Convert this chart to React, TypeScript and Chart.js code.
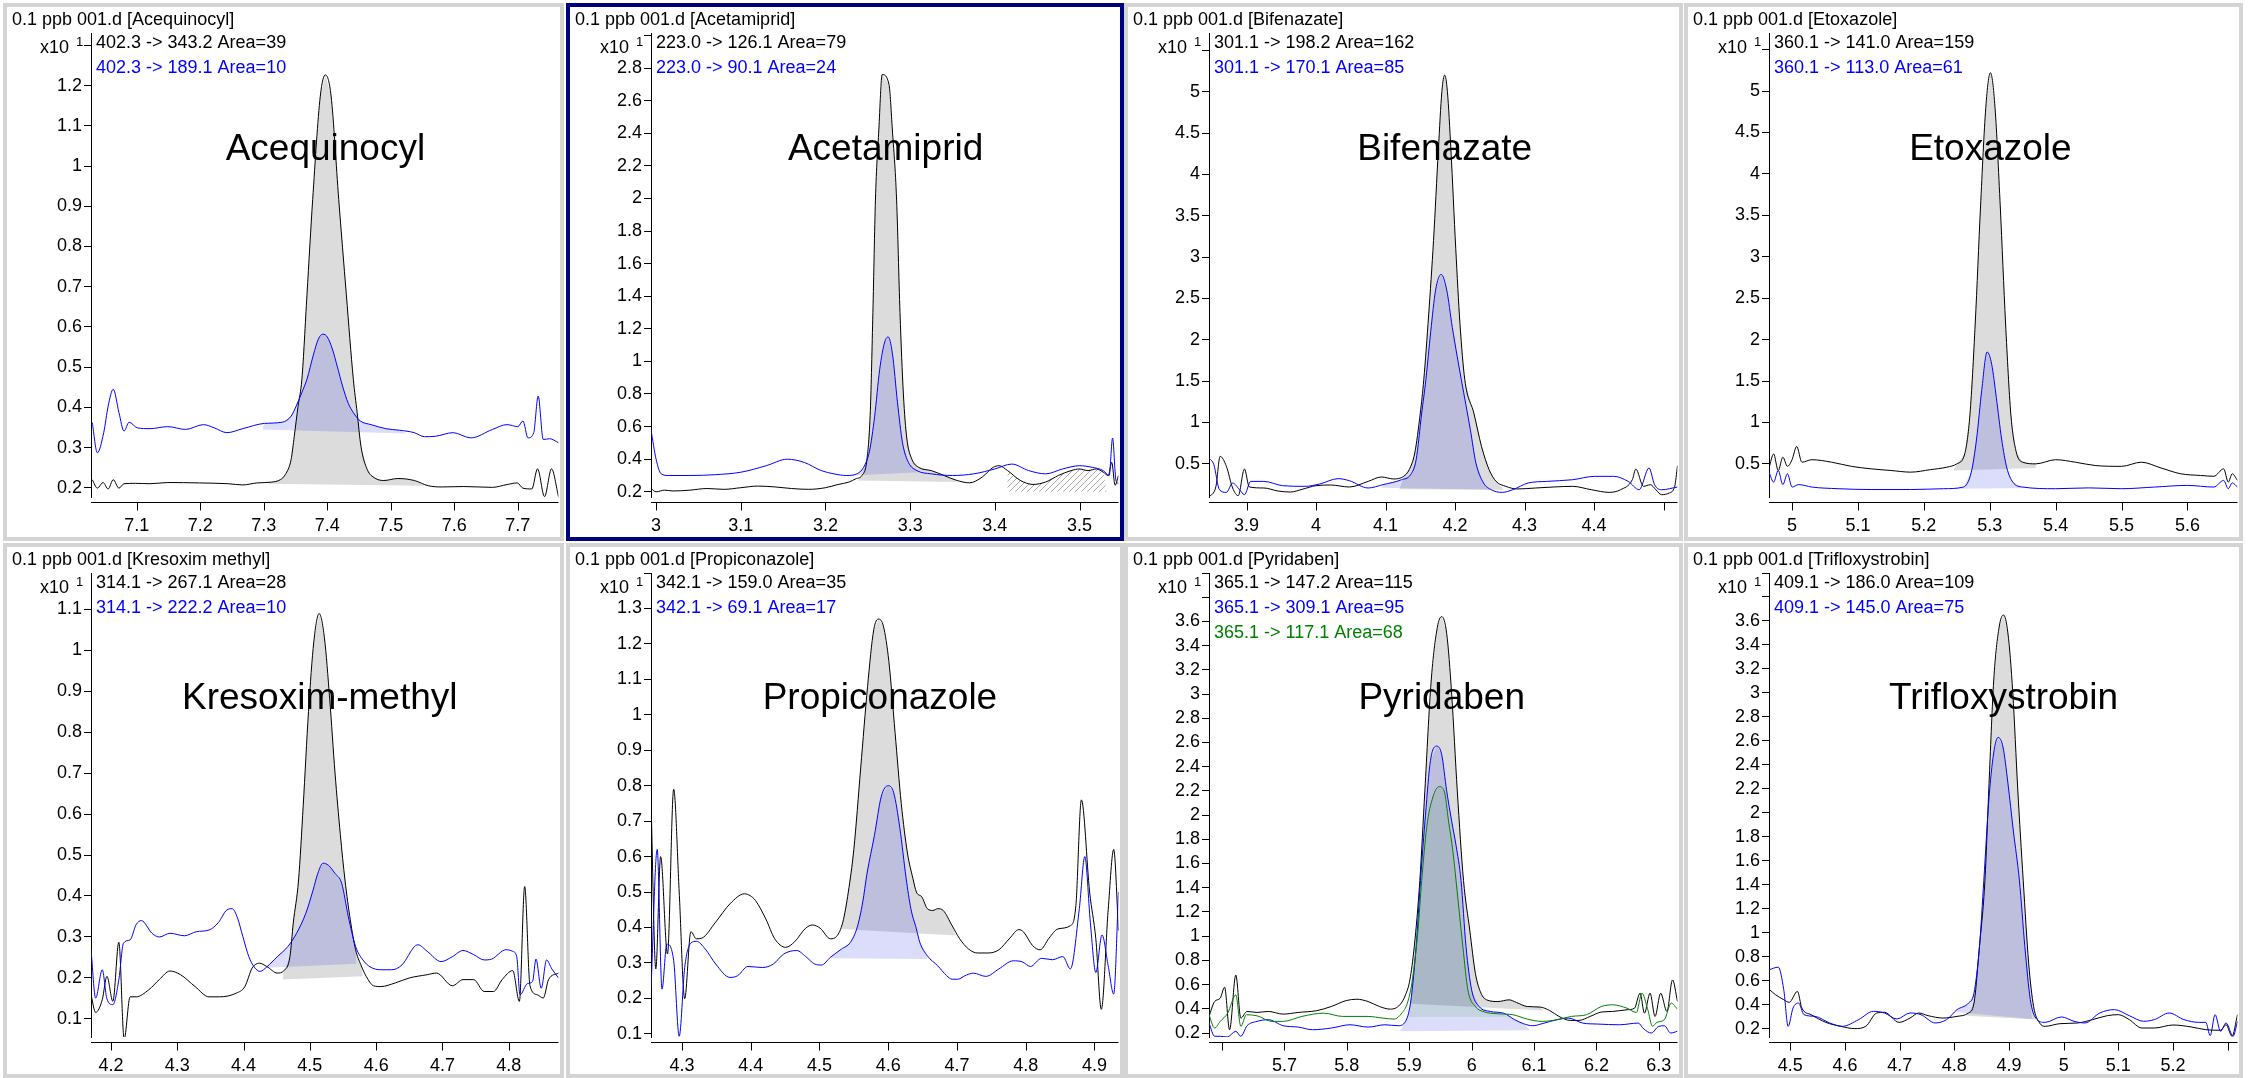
import React, { useEffect, useRef } from "react";
import { Chart, registerables } from "chart.js";

Chart.register(...registerables);

type Pt = [number, number];

const FONT = "'Liberation Sans', Arial, Helvetica, sans-serif";
const BLACK = "#000000";
const BLUE = "#0000ff";
const GREEN = "#008000";
const FILL_GREY = "#dcdcdc";
const FILL_BLUE = "rgba(40,40,230,0.16)";
const FILL_GREEN = "rgba(0,128,0,0.10)";
const PANEL_BORDER = "#d4d4d4";
const SEL_BORDER = "#00007f";

// ---------------- Acequinocyl ----------------
const aceqBlack: Pt[] = [[7.030,0.220],[7.038,0.199],[7.047,0.213],[7.055,0.197],[7.063,0.220],[7.072,0.199],[7.080,0.210],[7.098,0.211],[7.121,0.210],[7.149,0.213],[7.199,0.212],[7.244,0.210],[7.267,0.207],[7.289,0.212],[7.312,0.214],[7.326,0.220],[7.334,0.233],[7.343,0.270],[7.348,0.328],[7.354,0.403],[7.360,0.470],[7.368,0.680],[7.377,0.917],[7.389,1.174],[7.397,1.227],[7.406,1.174],[7.418,0.917],[7.430,0.680],[7.441,0.470],[7.447,0.387],[7.453,0.303],[7.463,0.245],[7.475,0.224],[7.489,0.218],[7.511,0.223],[7.537,0.218],[7.559,0.205],[7.581,0.202],[7.615,0.203],[7.660,0.201],[7.683,0.208],[7.699,0.212],[7.708,0.199],[7.722,0.197],[7.731,0.247],[7.742,0.178],[7.753,0.247],[7.764,0.178]];
const aceqBlue: Pt[] = [[7.030,0.362],[7.038,0.287],[7.048,0.337],[7.055,0.403],[7.063,0.445],[7.072,0.387],[7.080,0.341],[7.088,0.363],[7.101,0.349],[7.121,0.347],[7.149,0.352],[7.177,0.345],[7.205,0.357],[7.222,0.349],[7.242,0.337],[7.267,0.347],[7.301,0.360],[7.329,0.363],[7.343,0.378],[7.351,0.403],[7.360,0.437],[7.368,0.470],[7.378,0.530],[7.386,0.570],[7.393,0.582],[7.400,0.575],[7.408,0.545],[7.416,0.500],[7.424,0.453],[7.433,0.410],[7.441,0.387],[7.452,0.366],[7.469,0.357],[7.492,0.347],[7.514,0.343],[7.537,0.337],[7.553,0.327],[7.570,0.328],[7.598,0.337],[7.626,0.324],[7.660,0.345],[7.683,0.357],[7.700,0.352],[7.708,0.366],[7.716,0.324],[7.725,0.337],[7.732,0.428],[7.740,0.320],[7.750,0.322],[7.764,0.312]];
const aceqBlackBase: Pt[] = [[7.306,0.210],[7.553,0.205]];
const aceqBlueBase: Pt[] = [[7.298,0.345],[7.525,0.335]];
const aceqXTicks = [7.1,7.2,7.3,7.4,7.5,7.6,7.7];
const aceqXLabels = ["7.1","7.2","7.3","7.4","7.5","7.6","7.7"];
const aceqYTicks = [0.2,0.3,0.4,0.5,0.6,0.7,0.8,0.9,1.0,1.1,1.2,1.3];
const aceqYLabels = ["0.2","0.3","0.4","0.5","0.6","0.7","0.8","0.9","1","1.1","1.2",""];

// ---------------- Acetamiprid ----------------
const acetBlack: Pt[] = [[2.994,0.22],[3.0,0.20],[3.01,0.21],[3.02,0.205],[3.04,0.21],[3.06,0.22],[3.08,0.215],[3.10,0.225],[3.12,0.235],[3.14,0.23],[3.16,0.22],[3.18,0.215],[3.20,0.225],[3.215,0.245],[3.228,0.26],[3.236,0.28],[3.243,0.30],[3.249,0.40],[3.253,0.70],[3.256,1.3],[3.259,1.99],[3.263,2.42],[3.267,2.76],[3.275,2.70],[3.279,2.42],[3.284,1.99],[3.288,1.30],[3.292,0.80],[3.296,0.53],[3.302,0.40],[3.31,0.35],[3.325,0.33],[3.34,0.30],[3.355,0.27],[3.37,0.255],[3.385,0.29],[3.398,0.35],[3.405,0.36],[3.415,0.33],[3.43,0.27],[3.445,0.245],[3.46,0.26],[3.475,0.30],[3.49,0.33],[3.50,0.34],[3.51,0.33],[3.52,0.34],[3.528,0.32],[3.534,0.30],[3.538,0.38],[3.542,0.24],[3.546,0.30]];
const acetBlue: Pt[] = [[2.994,0.58],[3.0,0.40],[3.006,0.31],[3.015,0.30],[3.04,0.30],[3.07,0.305],[3.10,0.32],[3.13,0.36],[3.155,0.40],[3.175,0.38],[3.195,0.33],[3.21,0.31],[3.225,0.30],[3.237,0.31],[3.245,0.35],[3.252,0.45],[3.258,0.66],[3.264,0.95],[3.27,1.12],[3.274,1.15],[3.279,1.05],[3.285,0.75],[3.291,0.50],[3.298,0.38],[3.308,0.33],[3.325,0.31],[3.35,0.30],[3.375,0.31],[3.40,0.34],[3.42,0.37],[3.44,0.33],[3.46,0.31],[3.48,0.34],[3.50,0.36],[3.515,0.35],[3.528,0.33],[3.535,0.30],[3.539,0.53],[3.543,0.27],[3.546,0.25]];
const acetBlackBase: Pt[] = [[3.238,0.27],[3.355,0.26]];
const acetBlueBase: Pt[] = [[3.232,0.30],[3.31,0.32]];
const acetHatchBase: Pt[] = [[3.415,0.20],[3.532,0.20]];
const acetXTicks = [3.0,3.1,3.2,3.3,3.4,3.5];
const acetXLabels = ["3","3.1","3.2","3.3","3.4","3.5"];
const acetYTicks = [0.2,0.4,0.6,0.8,1.0,1.2,1.4,1.6,1.8,2.0,2.2,2.4,2.6,2.8,3.0];
const acetYLabels = ["0.2","0.4","0.6","0.8","1","1.2","1.4","1.6","1.8","2","2.2","2.4","2.6","2.8",""];

// ---------------- Bifenazate ----------------
const bifeBlack: Pt[] = [[3.846,0.097],[3.856,0.226],[3.862,0.589],[3.871,0.468],[3.880,0.206],[3.888,0.113],[3.897,0.435],[3.904,0.218],[3.925,0.206],[3.945,0.17],[3.963,0.157],[3.98,0.19],[4.0,0.234],[4.021,0.242],[4.048,0.218],[4.075,0.286],[4.094,0.339],[4.112,0.315],[4.126,0.347],[4.134,0.427],[4.142,0.629],[4.150,1.113],[4.155,1.516],[4.162,2.3],[4.169,3.2],[4.176,4.3],[4.181,5.0],[4.185,5.20],[4.189,5.0],[4.194,4.3],[4.201,3.1],[4.207,2.2],[4.214,1.516],[4.227,1.113],[4.238,0.71],[4.249,0.427],[4.259,0.286],[4.273,0.226],[4.289,0.194],[4.316,0.206],[4.342,0.218],[4.369,0.226],[4.396,0.185],[4.422,0.153],[4.438,0.185],[4.455,0.306],[4.460,0.435],[4.471,0.226],[4.481,0.246],[4.489,0.185],[4.497,0.125],[4.508,0.145],[4.516,0.226],[4.520,0.476]];
const bifeBlue: Pt[] = [[3.846,0.569],[3.853,0.488],[3.861,0.185],[3.871,0.153],[3.880,0.266],[3.890,0.185],[3.897,0.125],[3.906,0.286],[3.925,0.286],[3.952,0.234],[3.984,0.226],[4.005,0.254],[4.032,0.319],[4.048,0.294],[4.075,0.206],[4.096,0.246],[4.123,0.306],[4.136,0.367],[4.144,0.548],[4.152,1.113],[4.158,1.516],[4.165,2.1],[4.172,2.6],[4.18,2.79],[4.188,2.6],[4.196,2.15],[4.203,1.8],[4.209,1.516],[4.222,0.911],[4.230,0.508],[4.241,0.266],[4.252,0.185],[4.268,0.153],[4.283,0.185],[4.305,0.266],[4.332,0.286],[4.369,0.306],[4.401,0.347],[4.428,0.347],[4.449,0.286],[4.465,0.185],[4.479,0.448],[4.487,0.246],[4.497,0.185],[4.520,0.218]];
const bifeBlackBase: Pt[] = [[4.12,0.19],[4.27,0.185]];
const bifeBlueBase: Pt[] = [[4.094,0.21],[4.255,0.185]];
const bifeXTicks = [3.9,4.0,4.1,4.2,4.3,4.4,4.5];
const bifeXLabels = ["3.9","4","4.1","4.2","4.3","4.4",""];
const bifeYTicks = [0.5,1.0,1.5,2.0,2.5,3.0,3.5,4.0,4.5,5.0,5.5];
const bifeYLabels = ["0.5","1","1.5","2","2.5","3","3.5","4","4.5","5",""];

// ---------------- Etoxazole ----------------
const etoxBlack: Pt[] = [[4.965,0.45],[4.972,0.62],[4.979,0.42],[4.986,0.58],[4.993,0.47],[5.000,0.55],[5.007,0.71],[5.015,0.52],[5.03,0.55],[5.06,0.52],[5.09,0.47],[5.12,0.44],[5.15,0.42],[5.18,0.40],[5.21,0.43],[5.235,0.46],[5.25,0.50],[5.262,0.62],[5.27,1.1],[5.278,2.2],[5.286,3.6],[5.294,4.8],[5.301,5.22],[5.308,4.8],[5.316,3.6],[5.324,2.2],[5.332,1.1],[5.34,0.65],[5.35,0.52],[5.37,0.50],[5.40,0.55],[5.43,0.52],[5.46,0.48],[5.50,0.47],[5.53,0.52],[5.56,0.45],[5.59,0.38],[5.62,0.36],[5.64,0.35],[5.655,0.44],[5.662,0.28],[5.668,0.38],[5.676,0.30]];
const etoxBlue: Pt[] = [[4.965,0.40],[4.972,0.28],[4.979,0.42],[4.986,0.25],[4.993,0.38],[5.000,0.22],[5.01,0.25],[5.03,0.22],[5.07,0.20],[5.12,0.19],[5.18,0.19],[5.23,0.20],[5.26,0.22],[5.272,0.4],[5.28,0.8],[5.288,1.4],[5.296,1.85],[5.303,1.7],[5.31,1.3],[5.318,0.8],[5.326,0.45],[5.335,0.28],[5.35,0.22],[5.40,0.20],[5.45,0.21],[5.50,0.20],[5.55,0.22],[5.60,0.24],[5.64,0.22],[5.655,0.30],[5.662,0.20],[5.668,0.27],[5.676,0.22]];
const etoxBlackBase: Pt[] = [[5.245,0.42],[5.37,0.45]];
const etoxBlueBase: Pt[] = [[5.24,0.20],[5.36,0.21]];
const etoxXTicks = [5.0,5.1,5.2,5.3,5.4,5.5,5.6];
const etoxXLabels = ["5","5.1","5.2","5.3","5.4","5.5","5.6"];
const etoxYTicks = [0.5,1.0,1.5,2.0,2.5,3.0,3.5,4.0,4.5,5.0,5.5];
const etoxYLabels = ["0.5","1","1.5","2","2.5","3","3.5","4","4.5","5",""];

// ---------------- Kresoxim-methyl ----------------
const kresBlack: Pt[] = [[4.170,0.159],[4.177,0.116],[4.187,0.147],[4.194,0.204],[4.203,0.143],[4.212,0.287],[4.220,0.051],[4.229,0.154],[4.238,0.154],[4.257,0.171],[4.273,0.196],[4.289,0.217],[4.305,0.208],[4.327,0.179],[4.348,0.154],[4.364,0.154],[4.389,0.163],[4.402,0.179],[4.413,0.224],[4.424,0.236],[4.435,0.228],[4.451,0.212],[4.461,0.218],[4.470,0.252],[4.475,0.334],[4.483,0.439],[4.490,0.62],[4.498,0.85],[4.506,1.02],[4.514,1.089],[4.522,1.03],[4.530,0.88],[4.538,0.70],[4.546,0.55],[4.553,0.439],[4.561,0.342],[4.569,0.269],[4.577,0.232],[4.585,0.204],[4.596,0.181],[4.607,0.179],[4.629,0.188],[4.650,0.200],[4.677,0.208],[4.691,0.212],[4.715,0.181],[4.731,0.196],[4.747,0.196],[4.763,0.167],[4.777,0.167],[4.790,0.196],[4.806,0.218],[4.816,0.143],[4.824,0.423],[4.832,0.181],[4.843,0.159],[4.852,0.151],[4.860,0.196],[4.875,0.212]];
const kresBlue: Pt[] = [[4.170,0.27],[4.177,0.151],[4.187,0.22],[4.194,0.149],[4.203,0.135],[4.212,0.196],[4.219,0.285],[4.229,0.293],[4.238,0.33],[4.246,0.34],[4.262,0.309],[4.273,0.30],[4.289,0.309],[4.311,0.303],[4.329,0.313],[4.348,0.317],[4.362,0.335],[4.375,0.366],[4.383,0.369],[4.391,0.346],[4.399,0.301],[4.408,0.252],[4.416,0.227],[4.425,0.216],[4.435,0.227],[4.451,0.252],[4.467,0.277],[4.480,0.309],[4.494,0.358],[4.505,0.415],[4.512,0.455],[4.520,0.48],[4.528,0.475],[4.538,0.455],[4.548,0.431],[4.558,0.35],[4.569,0.277],[4.580,0.244],[4.591,0.227],[4.607,0.22],[4.623,0.22],[4.639,0.232],[4.658,0.277],[4.663,0.281],[4.677,0.265],[4.698,0.24],[4.715,0.252],[4.731,0.267],[4.747,0.257],[4.763,0.244],[4.774,0.246],[4.796,0.269],[4.806,0.265],[4.812,0.252],[4.817,0.159],[4.828,0.186],[4.836,0.192],[4.841,0.246],[4.849,0.175],[4.857,0.244],[4.865,0.222],[4.875,0.2]];
const kresBlackBase: Pt[] = [[4.459,0.196],[4.58,0.204]];
const kresBlueBase: Pt[] = [[4.435,0.225],[4.57,0.235]];
const kresXTicks = [4.2,4.3,4.4,4.5,4.6,4.7,4.8];
const kresXLabels = ["4.2","4.3","4.4","4.5","4.6","4.7","4.8"];
const kresYTicks = [0.1,0.2,0.3,0.4,0.5,0.6,0.7,0.8,0.9,1.0,1.1];
const kresYLabels = ["0.1","0.2","0.3","0.4","0.5","0.6","0.7","0.8","0.9","1","1.1"];

// ---------------- Propiconazole ----------------
const propBlack: Pt[] = [[4.255,0.76],[4.262,0.283],[4.269,0.60],[4.279,0.325],[4.288,0.79],[4.296,0.50],[4.304,0.199],[4.313,0.388],[4.321,0.368],[4.329,0.37],[4.349,0.415],[4.370,0.467],[4.391,0.495],[4.399,0.49],[4.407,0.476],[4.422,0.424],[4.435,0.368],[4.451,0.344],[4.464,0.36],[4.480,0.398],[4.490,0.407],[4.501,0.398],[4.516,0.368],[4.525,0.375],[4.534,0.415],[4.542,0.50],[4.550,0.62],[4.560,0.85],[4.570,1.08],[4.579,1.24],[4.586,1.27],[4.593,1.25],[4.601,1.15],[4.610,0.95],[4.619,0.75],[4.628,0.61],[4.636,0.538],[4.641,0.50],[4.649,0.486],[4.657,0.453],[4.665,0.448],[4.672,0.453],[4.680,0.448],[4.693,0.405],[4.704,0.368],[4.717,0.339],[4.730,0.328],[4.745,0.328],[4.761,0.337],[4.777,0.37],[4.790,0.394],[4.797,0.387],[4.810,0.349],[4.821,0.337],[4.834,0.37],[4.847,0.396],[4.865,0.405],[4.873,0.462],[4.881,0.76],[4.893,0.50],[4.902,0.368],[4.910,0.169],[4.920,0.45],[4.928,0.62],[4.935,0.391]];
const propBlue: Pt[] = [[4.255,0.226],[4.264,0.62],[4.271,0.226],[4.278,0.353],[4.288,0.306],[4.296,0.093],[4.304,0.287],[4.313,0.356],[4.321,0.361],[4.334,0.339],[4.349,0.297],[4.370,0.259],[4.381,0.264],[4.396,0.29],[4.417,0.287],[4.433,0.297],[4.448,0.325],[4.467,0.335],[4.480,0.318],[4.493,0.297],[4.503,0.294],[4.516,0.316],[4.532,0.339],[4.545,0.358],[4.555,0.401],[4.563,0.472],[4.569,0.55],[4.580,0.66],[4.590,0.77],[4.600,0.80],[4.608,0.78],[4.617,0.68],[4.626,0.54],[4.633,0.453],[4.641,0.396],[4.646,0.358],[4.657,0.32],[4.672,0.292],[4.685,0.264],[4.693,0.254],[4.701,0.254],[4.714,0.266],[4.724,0.271],[4.742,0.262],[4.761,0.283],[4.782,0.306],[4.795,0.303],[4.807,0.29],[4.823,0.313],[4.839,0.309],[4.854,0.318],[4.865,0.283],[4.878,0.453],[4.886,0.60],[4.894,0.415],[4.902,0.273],[4.911,0.379],[4.920,0.292],[4.928,0.212],[4.935,0.50]];
const propBlackBase: Pt[] = [[4.532,0.396],[4.698,0.377]];
const propBlueBase: Pt[] = [[4.516,0.313],[4.657,0.311]];
const propXTicks = [4.3,4.4,4.5,4.6,4.7,4.8,4.9];
const propXLabels = ["4.3","4.4","4.5","4.6","4.7","4.8","4.9"];
const propYTicks = [0.1,0.2,0.3,0.4,0.5,0.6,0.7,0.8,0.9,1.0,1.1,1.2,1.3,1.4];
const propYLabels = ["0.1","0.2","0.3","0.4","0.5","0.6","0.7","0.8","0.9","1","1.1","1.2","1.3",""];

// ---------------- Pyridaben ----------------
const pyriBlack: Pt[] = [[5.579,0.337],[5.588,0.46],[5.597,0.488],[5.604,0.578],[5.612,0.227],[5.622,0.679],[5.630,0.323],[5.640,0.378],[5.656,0.37],[5.674,0.378],[5.698,0.356],[5.722,0.37],[5.751,0.384],[5.775,0.419],[5.799,0.468],[5.816,0.479],[5.834,0.46],[5.852,0.419],[5.870,0.397],[5.885,0.433],[5.894,0.515],[5.901,0.638],[5.908,0.912],[5.917,1.46],[5.925,2.2],[5.935,3.1],[5.945,3.55],[5.952,3.64],[5.960,3.5],[5.968,3.0],[5.977,2.2],[5.987,1.46],[5.997,1.05],[6.006,0.693],[6.015,0.529],[6.024,0.474],[6.042,0.46],[6.060,0.474],[6.072,0.452],[6.089,0.419],[6.110,0.414],[6.125,0.386],[6.140,0.337],[6.158,0.304],[6.172,0.304],[6.190,0.337],[6.208,0.373],[6.226,0.378],[6.249,0.392],[6.261,0.405],[6.270,0.529],[6.277,0.364],[6.286,0.529],[6.294,0.337],[6.303,0.529],[6.313,0.378],[6.322,0.638],[6.330,0.46]];
const pyriBlue: Pt[] = [[5.579,0.282],[5.588,0.173],[5.597,0.173],[5.608,0.167],[5.622,0.214],[5.630,0.173],[5.640,0.26],[5.656,0.296],[5.674,0.31],[5.698,0.26],[5.722,0.249],[5.745,0.227],[5.775,0.241],[5.805,0.268],[5.834,0.249],[5.861,0.268],[5.882,0.26],[5.894,0.296],[5.902,0.447],[5.911,0.912],[5.918,1.46],[5.926,2.0],[5.934,2.45],[5.944,2.57],[5.952,2.5],[5.960,2.2],[5.968,1.95],[5.975,1.75],[5.983,1.46],[5.991,0.912],[6.000,0.556],[6.012,0.419],[6.030,0.378],[6.051,0.364],[6.069,0.31],[6.083,0.277],[6.098,0.26],[6.113,0.277],[6.137,0.31],[6.155,0.323],[6.178,0.282],[6.202,0.274],[6.237,0.268],[6.267,0.282],[6.276,0.233],[6.288,0.20],[6.300,0.255],[6.309,0.26],[6.319,0.20],[6.330,0.214]];
const pyriGreen: Pt[] = [[5.579,0.351],[5.588,0.241],[5.597,0.296],[5.609,0.364],[5.622,0.515],[5.630,0.255],[5.639,0.351],[5.656,0.342],[5.680,0.296],[5.698,0.296],[5.728,0.337],[5.763,0.364],[5.793,0.337],[5.834,0.337],[5.858,0.323],[5.876,0.315],[5.888,0.364],[5.897,0.447],[5.905,0.638],[5.914,1.049],[5.920,1.46],[5.928,1.9],[5.938,2.15],[5.948,2.235],[5.956,2.2],[5.963,1.95],[5.970,1.7],[5.975,1.46],[5.986,0.912],[5.994,0.556],[6.006,0.419],[6.018,0.378],[6.042,0.359],[6.066,0.351],[6.089,0.315],[6.113,0.296],[6.137,0.31],[6.160,0.337],[6.184,0.351],[6.208,0.419],[6.226,0.433],[6.249,0.405],[6.264,0.37],[6.273,0.529],[6.282,0.40],[6.290,0.255],[6.297,0.288],[6.309,0.31],[6.320,0.447],[6.330,0.397]];
const pyriBlackBase: Pt[] = [[5.902,0.441],[6.116,0.386]];
const pyriBlueBase: Pt[] = [[5.885,0.214],[6.094,0.222]];
const pyriGreenBase: Pt[] = [[5.90,0.332],[6.06,0.332]];
const pyriXTicks = [5.6,5.7,5.8,5.9,6.0,6.1,6.2,6.3];
const pyriXLabels = ["","5.7","5.8","5.9","6","6.1","6.2","6.3"];
const pyriYTicks = [0.2,0.4,0.6,0.8,1.0,1.2,1.4,1.6,1.8,2.0,2.2,2.4,2.6,2.8,3.0,3.2,3.4,3.6,3.8,4.0];
const pyriYLabels = ["0.2","0.4","0.6","0.8","1","1.2","1.4","1.6","1.8","2","2.2","2.4","2.6","2.8","3","3.2","3.4","3.6","",""];

// ---------------- Trifloxystrobin ----------------
const trifBlack: Pt[] = [[4.461,0.532],[4.473,0.485],[4.488,0.444],[4.498,0.422],[4.513,0.513],[4.521,0.375],[4.538,0.319],[4.565,0.255],[4.592,0.222],[4.618,0.203],[4.638,0.222],[4.658,0.333],[4.672,0.339],[4.699,0.255],[4.719,0.291],[4.735,0.333],[4.752,0.311],[4.779,0.291],[4.805,0.305],[4.826,0.333],[4.836,0.416],[4.846,0.887],[4.856,1.44],[4.864,2.3],[4.872,3.1],[4.882,3.55],[4.890,3.65],[4.898,3.5],[4.907,3.0],[4.916,2.2],[4.926,1.44],[4.936,0.748],[4.945,0.388],[4.956,0.25],[4.966,0.222],[4.993,0.244],[5.026,0.25],[5.053,0.278],[5.080,0.311],[5.100,0.319],[5.120,0.278],[5.143,0.208],[5.166,0.208],[5.200,0.233],[5.233,0.217],[5.260,0.194],[5.287,0.189],[5.297,0.236],[5.308,0.139],[5.318,0.319]];
const trifBlue: Pt[] = [[4.461,0.693],[4.478,0.715],[4.488,0.527],[4.496,0.222],[4.505,0.375],[4.515,0.416],[4.525,0.319],[4.545,0.305],[4.572,0.25],[4.595,0.222],[4.625,0.278],[4.652,0.347],[4.672,0.333],[4.695,0.283],[4.719,0.333],[4.739,0.319],[4.765,0.25],[4.786,0.278],[4.805,0.361],[4.826,0.416],[4.836,0.499],[4.846,0.887],[4.854,1.44],[4.863,2.1],[4.872,2.5],[4.880,2.63],[4.889,2.55],[4.898,2.25],[4.908,1.85],[4.919,1.44],[4.929,0.887],[4.939,0.444],[4.949,0.291],[4.966,0.255],[4.996,0.30],[5.019,0.264],[5.039,0.25],[5.066,0.333],[5.093,0.361],[5.120,0.311],[5.146,0.264],[5.166,0.278],[5.193,0.333],[5.220,0.278],[5.247,0.255],[5.260,0.255],[5.268,0.145],[5.277,0.319],[5.287,0.18],[5.297,0.25],[5.310,0.139],[5.318,0.264]];
const trifBlackBase: Pt[] = [[4.822,0.311],[4.949,0.278]];
const trifBlueBase: Pt[] = [[4.805,0.339],[4.942,0.283]];
const trifXTicks = [4.5,4.6,4.7,4.8,4.9,5.0,5.1,5.2,5.3];
const trifXLabels = ["4.5","4.6","4.7","4.8","4.9","5","5.1","5.2",""];
const trifYTicks = [0.2,0.4,0.6,0.8,1.0,1.2,1.4,1.6,1.8,2.0,2.2,2.4,2.6,2.8,3.0,3.2,3.4,3.6,3.8,4.0];
const trifYLabels = ["0.2","0.4","0.6","0.8","1","1.2","1.4","1.6","1.8","2","2.2","2.4","2.6","2.8","3","3.2","3.4","3.6","",""];

// ---------------- panel config ----------------
interface TraceCfg { pts: Pt[]; color: string; base?: Pt[]; fillColor?: string; hatchBase?: Pt[]; label: string }
interface PanelCfg {
  title: string; compound: string; col: number; row: number; selected?: boolean;
  x: [number, number]; y: [number, number];
  xTicks: number[]; xLabels: string[]; yTicks: number[]; yLabels: string[]; peak: number;
  traces: TraceCfg[];
}

const PANELS: PanelCfg[] = [
  { title: "0.1 ppb 001.d [Acequinocyl]", compound: "Acequinocyl", col: 0, row: 0, x: [7.028, 7.764], y: [0.177, 1.331],
    xTicks: aceqXTicks, xLabels: aceqXLabels, yTicks: aceqYTicks, yLabels: aceqYLabels, peak: 7.397,
    traces: [
      { pts: aceqBlack, color: BLACK, base: aceqBlackBase, fillColor: FILL_GREY, label: "402.3 -> 343.2 Area=39" },
      { pts: aceqBlue, color: BLUE, base: aceqBlueBase, fillColor: FILL_BLUE, label: "402.3 -> 189.1 Area=10" },
    ] },
  { title: "0.1 ppb 001.d [Acetamiprid]", compound: "Acetamiprid", col: 1, row: 0, selected: true, x: [2.994, 3.546], y: [0.168, 3.015],
    xTicks: acetXTicks, xLabels: acetXLabels, yTicks: acetYTicks, yLabels: acetYLabels, peak: 3.271,
    traces: [
      { pts: acetBlack, color: BLACK, base: acetBlackBase, fillColor: FILL_GREY, hatchBase: acetHatchBase, label: "223.0 -> 126.1 Area=79" },
      { pts: acetBlue, color: BLUE, base: acetBlueBase, fillColor: FILL_BLUE, label: "223.0 -> 90.1 Area=24" },
    ] },
  { title: "0.1 ppb 001.d [Bifenazate]", compound: "Bifenazate", col: 2, row: 0, x: [3.846, 4.520], y: [0.097, 5.71],
    xTicks: bifeXTicks, xLabels: bifeXLabels, yTicks: bifeYTicks, yLabels: bifeYLabels, peak: 4.185,
    traces: [
      { pts: bifeBlack, color: BLACK, base: bifeBlackBase, fillColor: FILL_GREY, label: "301.1 -> 198.2 Area=162" },
      { pts: bifeBlue, color: BLUE, base: bifeBlueBase, fillColor: FILL_BLUE, label: "301.1 -> 170.1 Area=85" },
    ] },
  { title: "0.1 ppb 001.d [Etoxazole]", compound: "Etoxazole", col: 3, row: 0, x: [4.965, 5.676], y: [0.10, 5.70],
    xTicks: etoxXTicks, xLabels: etoxXLabels, yTicks: etoxYTicks, yLabels: etoxYLabels, peak: 5.301,
    traces: [
      { pts: etoxBlack, color: BLACK, base: etoxBlackBase, fillColor: FILL_GREY, label: "360.1 -> 141.0 Area=159" },
      { pts: etoxBlue, color: BLUE, base: etoxBlueBase, fillColor: FILL_BLUE, label: "360.1 -> 113.0 Area=61" },
    ] },
  { title: "0.1 ppb 001.d [Kresoxim methyl]", compound: "Kresoxim-methyl", col: 0, row: 1, x: [4.170, 4.875], y: [0.056, 1.188],
    xTicks: kresXTicks, xLabels: kresXLabels, yTicks: kresYTicks, yLabels: kresYLabels, peak: 4.515,
    traces: [
      { pts: kresBlack, color: BLACK, base: kresBlackBase, fillColor: FILL_GREY, label: "314.1 -> 267.1 Area=28" },
      { pts: kresBlue, color: BLUE, base: kresBlueBase, fillColor: FILL_BLUE, label: "314.1 -> 222.2 Area=10" },
    ] },
  { title: "0.1 ppb 001.d [Propiconazole]", compound: "Propiconazole", col: 1, row: 1, x: [4.255, 4.935], y: [0.091, 1.40],
    xTicks: propXTicks, xLabels: propXLabels, yTicks: propYTicks, yLabels: propYLabels, peak: 4.588,
    traces: [
      { pts: propBlack, color: BLACK, base: propBlackBase, fillColor: FILL_GREY, label: "342.1 -> 159.0 Area=35" },
      { pts: propBlue, color: BLUE, base: propBlueBase, fillColor: FILL_BLUE, label: "342.1 -> 69.1 Area=17" },
    ] },
  { title: "0.1 ppb 001.d [Pyridaben]", compound: "Pyridaben", col: 2, row: 1, x: [5.579, 6.330], y: [0.167, 4.0],
    xTicks: pyriXTicks, xLabels: pyriXLabels, yTicks: pyriYTicks, yLabels: pyriYLabels, peak: 5.952,
    traces: [
      { pts: pyriBlack, color: BLACK, base: pyriBlackBase, fillColor: FILL_GREY, label: "365.1 -> 147.2 Area=115" },
      { pts: pyriBlue, color: BLUE, base: pyriBlueBase, fillColor: FILL_BLUE, label: "365.1 -> 309.1 Area=95" },
      { pts: pyriGreen, color: GREEN, base: pyriGreenBase, fillColor: FILL_GREEN, label: "365.1 -> 117.1 Area=68" },
    ] },
  { title: "0.1 ppb 001.d [Trifloxystrobin]", compound: "Trifloxystrobin", col: 3, row: 1, x: [4.461, 5.318], y: [0.133, 4.0],
    xTicks: trifXTicks, xLabels: trifXLabels, yTicks: trifYTicks, yLabels: trifYLabels, peak: 4.890,
    traces: [
      { pts: trifBlack, color: BLACK, base: trifBlackBase, fillColor: FILL_GREY, label: "409.1 -> 186.0 Area=109" },
      { pts: trifBlue, color: BLUE, base: trifBlueBase, fillColor: FILL_BLUE, label: "409.1 -> 145.0 Area=75" },
    ] },
];

// ---------------- layout ----------------
const COL_LEFT = [3, 566, 1124, 1684];
const COL_W = [561, 558, 559, 559];
const ROW_TOP = [3, 543];
const ROW_H = [538, 535];
const BORDER = 4;
const PLOT_TOP = 26;
const PLOT_BOTTOM = 490;
const LABEL_DY = [117, 126];

function makeHatch(): CanvasPattern | string {
  const c = document.createElement("canvas");
  c.width = 6; c.height = 6;
  const g = c.getContext("2d");
  if (!g) return "#cccccc";
  g.strokeStyle = "#a8a8a8";
  g.lineWidth = 1;
  g.beginPath();
  g.moveTo(0, 6); g.lineTo(6, 0);
  g.moveTo(-1, 1); g.lineTo(1, -1);
  g.moveTo(5, 7); g.lineTo(7, 5);
  g.stroke();
  return g.createPattern(c, "repeat") || "#cccccc";
}

function polygon(pts: Pt[], base: Pt[]) {
  const [b0, b1] = base;
  const seg = pts.filter((p) => p[0] >= b0[0] && p[0] <= b1[0]);
  return [b0, ...seg, b1].map((p) => ({ x: p[0], y: p[1] }));
}

function PanelChart({ cfg }: { cfg: PanelCfg }) {
  const ref = useRef<HTMLCanvasElement>(null);
  const w = COL_W[cfg.col];
  const h = ROW_H[cfg.row];
  const cw = w - 2 * BORDER;
  const ch = h - 2 * BORDER;
  const axisX = cfg.col === 0 ? 84 : 81;
  const plotRight = cw - 1.5;

  useEffect(() => {
    const canvas = ref.current;
    if (!canvas) return;
    const datasets: any[] = [];
    cfg.traces.forEach((tr, i) => {
      if (tr.base) {
        datasets.push({
          data: polygon(tr.pts, tr.base), fill: "shape", backgroundColor: tr.fillColor,
          borderColor: "rgba(0,0,0,0)", borderWidth: 0, pointRadius: 0, tension: 0, order: 40 - i,
        });
      }
      if (tr.hatchBase) {
        datasets.push({
          data: polygon(tr.pts, tr.hatchBase), fill: "shape", backgroundColor: makeHatch(),
          borderColor: "rgba(0,0,0,0)", borderWidth: 0, pointRadius: 0, tension: 0, order: 30 - i,
        });
      }
    });
    cfg.traces.forEach((tr, i) => {
      datasets.push({
        data: tr.pts.map((p) => ({ x: p[0], y: p[1] })), borderColor: tr.color, borderWidth: 1,
        fill: false, pointRadius: 0, cubicInterpolationMode: "monotone", order: 10 - i,
      });
    });

    const decor = {
      id: "decor",
      afterDraw(chart: any) {
        const ctx = chart.ctx as CanvasRenderingContext2D;
        const ca = chart.chartArea;
        const sx = chart.scales.x;
        ctx.save();
        const ay = Math.round(ca.bottom + 6) - 0.5;
        ctx.strokeStyle = "#000";
        ctx.lineWidth = 1;
        ctx.beginPath();
        ctx.moveTo(ca.left, ay);
        ctx.lineTo(ca.right, ay);
        sx.ticks.forEach((t: any) => {
          const x = Math.round(sx.getPixelForValue(t.value)) + 0.5;
          ctx.moveTo(x, ay);
          ctx.lineTo(x, ay + 8);
        });
        ctx.stroke();
        ctx.fillStyle = "#000";
        ctx.textBaseline = "middle";
        ctx.textAlign = "left";
        ctx.font = `18px ${FONT}`;
        ctx.fillText(cfg.title, 5, 13);
        ctx.textAlign = "right";
        ctx.fillText("x10", ca.left - 22, ca.top + 15);
        ctx.textAlign = "left";
        ctx.font = `13px ${FONT}`;
        ctx.fillText("1", ca.left - 15, ca.top + 9);
        ctx.font = `18px ${FONT}`;
        cfg.traces.forEach((tr, i) => {
          ctx.fillStyle = tr.color;
          ctx.fillText(tr.label, ca.left + 5, ca.top + 10 + 25 * i);
        });
        ctx.fillStyle = "#000";
        ctx.font = `37px ${FONT}`;
        ctx.textAlign = "center";
        ctx.fillText(cfg.compound, sx.getPixelForValue(cfg.peak), ca.top + LABEL_DY[cfg.row]);
        ctx.restore();
      },
    };

    const chart = new Chart(canvas, {
      type: "line",
      data: { datasets },
      options: {
        animation: false,
        responsive: false,
        devicePixelRatio: 1,
        events: [],
        layout: { autoPadding: false, padding: { left: 0, top: PLOT_TOP, right: cw - plotRight, bottom: 0 } },
        plugins: { legend: { display: false }, tooltip: { enabled: false }, title: { display: false } },
        scales: {
          x: {
            type: "linear", position: "bottom", min: cfg.x[0], max: cfg.x[1],
            afterBuildTicks: (s: any) => { s.ticks = cfg.xTicks.map((v) => ({ value: v })); },
            afterFit: (s: any) => { s.height = ch - PLOT_BOTTOM; s.paddingLeft = 0; s.paddingRight = 0; s.paddingTop = 0; s.paddingBottom = 0; },
            grid: { display: false, drawTicks: false, tickLength: 0 },
            border: { display: false },
            ticks: { padding: 18, color: "#000", font: { size: 18, family: FONT }, maxRotation: 0, minRotation: 0, autoSkip: false,
              callback: (_v: any, i: number) => cfg.xLabels[i] ?? "" },
          },
          y: {
            type: "linear", position: "left", min: cfg.y[0], max: cfg.y[1],
            afterBuildTicks: (s: any) => { s.ticks = cfg.yTicks.map((v) => ({ value: v })); },
            afterFit: (s: any) => { s.width = axisX; s.paddingLeft = 0; s.paddingRight = 0; s.paddingTop = 0; s.paddingBottom = 0; },
            grid: { display: true, drawOnChartArea: false, drawTicks: true, tickLength: 7, color: "#000", lineWidth: 1 },
            border: { display: true, color: "#000", width: 1 },
            ticks: { padding: 2, color: "#000", font: { size: 18, family: FONT }, autoSkip: false,
              callback: (_v: any, i: number) => cfg.yLabels[i] ?? "" },
          },
        },
      } as any,
      plugins: [decor],
    });
    return () => chart.destroy();
  }, [cfg]);

  return (
    <div
      style={{
        position: "absolute", left: COL_LEFT[cfg.col], top: ROW_TOP[cfg.row], width: w, height: h,
        boxSizing: "border-box", border: `${BORDER}px solid ${cfg.selected ? SEL_BORDER : PANEL_BORDER}`, background: "#fff",
      }}
    >
      <canvas ref={ref} width={cw} height={ch} style={{ display: "block", width: cw, height: ch }} />
    </div>
  );
}

export default function App() {
  return (
    <div style={{ position: "absolute", left: 0, top: 0, width: 2252, height: 1078, background: "#fff", overflow: "hidden" }}>
      {PANELS.map((p) => (
        <PanelChart key={p.compound} cfg={p} />
      ))}
    </div>
  );
}
